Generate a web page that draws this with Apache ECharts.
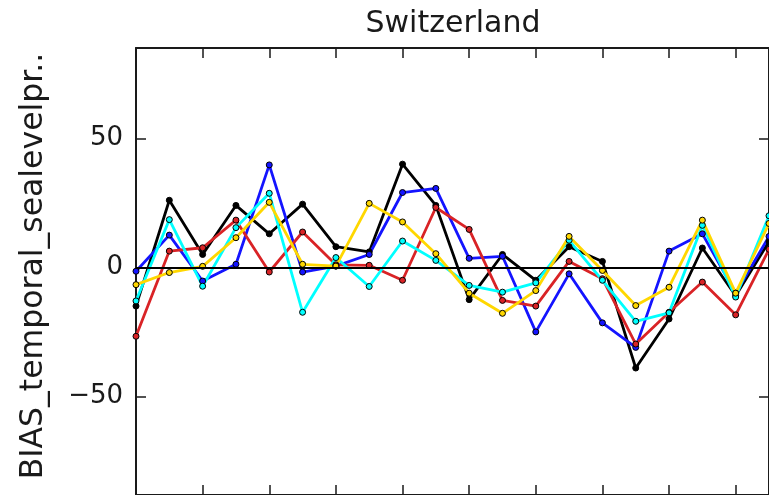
<!DOCTYPE html>
<html>
<head>
<meta charset="utf-8">
<script src="https://cdn.jsdelivr.net/npm/echarts@6/dist/echarts.min.js"></script>
<style>
  html, body { margin: 0; padding: 0; background: #fff; }
  #chart { width: 769px; height: 495px; }
</style>
</head>
<body>
<div id="chart"></div>
<script>
// Time steps along the x axis (no visible tick labels)
const steps = [0,1,2,3,4,5,6,7,8,9,10,11,12,13,14,15,16,17,18,19];

// Bias values per model run
const seriesBlack  = [-15, 26, 5, 24, 13, 24.5, 8, 6, 40, 24, -12.5, 5, -5, 8, 2.3, -39, -20, 7.5, -11, 10];
const seriesBlue   = [-1.5, 12.5, -5.3, 1.2, 39.7, -1.8, 0.5, 5, 29, 30.6, 3.5, 4.3, -25, -2.5, -21.5, -31, 6.3, 13, -10, 12];
const seriesRed    = [-26.7, 6.3, 7.6, 18.3, -1.8, 13.7, 1, 0.8, -5, 23.2, 14.7, -12.8, -15, 2.3, -4.4, -29.7, -17.4, -5.7, -18.4, 7];
const seriesCyan   = [-13, 18.5, -7.3, 15.4, 28.7, -17.4, 3.8, -7.4, 10.2, 2.7, -7, -9.6, -6, 10.5, -5, -20.9, -17.6, 16.3, -11.5, 20];
const seriesYellow = [-6.7, -2, 0.4, 11.5, 25.2, 1.2, 0.5, 24.8, 17.6, 5.3, -10, -17.8, -9, 12, -1.2, -14.8, -7.7, 18.3, -10, 17];

// Y tick values
const yTicks = [-50, 0, 50];
const Y_MIN = -88.2;
const Y_MAX = 85;

const chart = echarts.init(document.getElementById('chart'), null, { renderer: 'canvas' });

const FONT = 'DejaVu Sans';
const INK = '#1a1a1a';
const TICK = { color: INK, width: 1.5 };
const SPINE = { color: INK, width: 2 };

function lineSeries(name, data, color, extra) {
  return Object.assign({
    name: name,
    type: 'line',
    data: data,
    symbol: 'circle',
    symbolSize: 6,
    showSymbol: true,
    lineStyle: { color: color, width: 2.8 },
    itemStyle: { color: color, borderColor: '#000', borderWidth: 1 },
    emphasis: { disabled: true },
    animation: false
  }, extra || {});
}

const option = {
  animation: false,
  grid: [
    // main plot frame
    { left: 136, top: 48, right: 0, bottom: 0 },
    // thin strip under the top spine, carrying the top tick marks
    { left: 136, top: 48, right: 0, height: 10 },
    // thin strip beside the right spine, carrying the right tick marks
    { right: 0, top: 48, bottom: 0, width: 10 }
  ],
  xAxis: [
    {
      gridIndex: 0, type: 'category', data: steps, boundaryGap: false, position: 'bottom',
      axisLine: { show: true, onZero: false, lineStyle: SPINE },
      axisTick: { show: true, inside: true, length: 10, interval: 1, lineStyle: TICK },
      axisLabel: { show: false }, splitLine: { show: false }
    },
    {
      gridIndex: 0, type: 'category', data: steps, boundaryGap: false, position: 'top',
      axisLine: { show: true, onZero: false, lineStyle: SPINE },
      axisTick: { show: false }, axisLabel: { show: false }, splitLine: { show: false }
    },
    {
      gridIndex: 1, type: 'category', data: steps, boundaryGap: false, position: 'bottom',
      axisLine: { show: false, onZero: false },
      axisTick: { show: true, inside: true, length: 10, interval: 1, lineStyle: TICK },
      axisLabel: { show: false }, splitLine: { show: false }
    },
    {
      gridIndex: 2, type: 'category', data: steps, show: false
    }
  ],
  yAxis: [
    {
      gridIndex: 0, type: 'value', min: Y_MIN, max: Y_MAX, position: 'left',
      axisLine: { show: true, onZero: false, lineStyle: SPINE },
      axisTick: { show: true, inside: true, length: 10, customValues: yTicks, lineStyle: TICK },
      axisLabel: {
        show: true, customValues: yTicks, margin: 13,
        fontFamily: FONT, fontSize: 26, color: INK,
        formatter: v => (v < 0 ? '\u2212' + Math.abs(v) : String(v))
      },
      splitLine: { show: false }
    },
    {
      gridIndex: 0, type: 'value', min: Y_MIN, max: Y_MAX, position: 'right',
      axisLine: { show: true, onZero: false, lineStyle: SPINE },
      axisTick: { show: false }, axisLabel: { show: false }, splitLine: { show: false }
    },
    {
      gridIndex: 1, type: 'value', min: 0, max: 1, show: false
    },
    {
      gridIndex: 2, type: 'value', min: Y_MIN, max: Y_MAX, position: 'left',
      axisLine: { show: false, onZero: false },
      axisTick: { show: true, inside: true, length: 10, customValues: yTicks, lineStyle: TICK },
      axisLabel: { show: false }, splitLine: { show: false }
    }
  ],
  graphic: [
    {
      type: 'text', x: 453, y: 24, silent: true,
      style: { text: 'Switzerland', font: '30px "DejaVu Sans"', fill: INK, textAlign: 'center', textVerticalAlign: 'middle' }
    },
    {
      type: 'text', x: 34, y: 266, rotation: Math.PI / 2, silent: true,
      style: { text: 'BIAS_temporal_sealevelpr..', font: '31.5px "DejaVu Sans"', fill: INK, textAlign: 'center', textVerticalAlign: 'middle' }
    }
  ],
  series: [
    lineSeries('black', seriesBlack, '#000000', {
      markLine: {
        silent: true, symbol: ['none', 'none'], animation: false,
        label: { show: false },
        lineStyle: { color: '#000', width: 2, type: 'solid' },
        data: [{ yAxis: 0 }]
      }
    }),
    lineSeries('blue', seriesBlue, '#1414ff'),
    lineSeries('red', seriesRed, '#d92326'),
    lineSeries('cyan', seriesCyan, '#00ffff'),
    lineSeries('yellow', seriesYellow, '#ffd700')
  ]
};

chart.setOption(option);
</script>
</body>
</html>
